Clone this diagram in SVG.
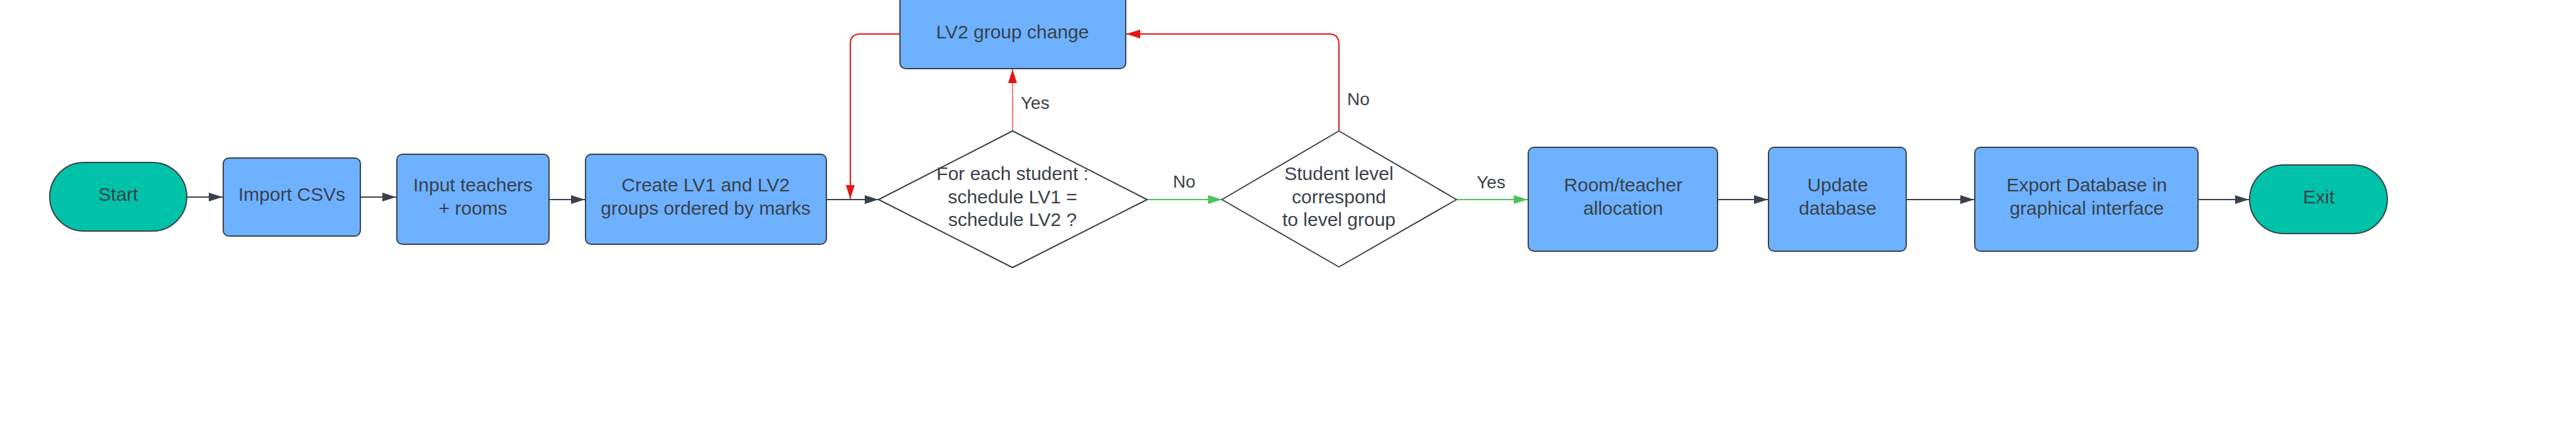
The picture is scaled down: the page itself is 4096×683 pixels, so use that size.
<svg xmlns="http://www.w3.org/2000/svg" width="4096" height="683" viewBox="0 0 4096 683">
<defs>
<style>
.t{font-family:"Liberation Sans",Arial,sans-serif;font-size:30px;fill:#3a414a;text-anchor:middle}
.lbl{font-family:"Liberation Sans",Arial,sans-serif;font-size:28px;fill:#3a414a}
.box{fill:#6db1ff;stroke:#3a414a;stroke-width:2}
.term{fill:#00c2a8;stroke:#3a414a;stroke-width:2}
.dia{fill:#ffffff;stroke:#3a414a;stroke-width:2;stroke-linejoin:round}
.c{fill:none;stroke:#3a414a;stroke-width:2}
.cr{fill:none;stroke:#e81313;stroke-width:2}
.cy{fill:none;stroke:#f07a7a;stroke-width:2}
.cg{fill:none;stroke:#4cc35a;stroke-width:2}
</style>
<marker id="aD" markerUnits="userSpaceOnUse" markerWidth="24" markerHeight="16" viewBox="0 0 24 16" refX="22" refY="8" orient="auto"><path d="M0,1 L22,8 L0,15 Z" fill="#3a414a"/></marker>
<marker id="aR" markerUnits="userSpaceOnUse" markerWidth="24" markerHeight="16" viewBox="0 0 24 16" refX="22" refY="8" orient="auto"><path d="M0,1 L22,8 L0,15 Z" fill="#e81313"/></marker>
<marker id="aG" markerUnits="userSpaceOnUse" markerWidth="24" markerHeight="16" viewBox="0 0 24 16" refX="22" refY="8" orient="auto"><path d="M0,1 L22,8 L0,15 Z" fill="#4cc35a"/></marker>
</defs>
<rect width="4096" height="683" fill="#ffffff"/>
<g id="connectors">
<path class="c" d="M297,313 H354" marker-end="url(#aD)"/>
<path class="c" d="M573,313 H630" marker-end="url(#aD)"/>
<path class="c" d="M873,317 H930" marker-end="url(#aD)"/>
<path class="c" d="M1314,317 H1397" marker-end="url(#aD)"/>
<path class="cg" d="M1824,317 H1943" marker-end="url(#aG)"/>
<path class="cg" d="M2316,317 H2429" marker-end="url(#aG)"/>
<path class="c" d="M2731,317 H2811" marker-end="url(#aD)"/>
<path class="c" d="M3031,317 H3139" marker-end="url(#aD)"/>
<path class="c" d="M3495,317 H3576" marker-end="url(#aD)"/>
<path class="cy" d="M1610,208 V110" marker-end="url(#aR)"/>
<path class="cr" d="M2129,208 V70 Q2129,54 2113,54 H1791" marker-end="url(#aR)"/>
<path class="cr" d="M1431,54 H1368 Q1352,54 1352,70 V316" marker-end="url(#aR)"/>
<text class="lbl" x="1623" y="173">Yes</text>
<text class="lbl" x="2142" y="167">No</text>
<text class="lbl" x="1865" y="298">No</text>
<text class="lbl" x="2348" y="299">Yes</text>
</g>
<g id="start">
<rect class="term" x="79" y="258" width="218" height="109" rx="54.5"/>
<text class="t" x="188" y="319">Start</text>
</g>
<g id="import-csvs">
<rect class="box" x="355" y="251" width="218" height="124" rx="9"/>
<text class="t" x="464" y="319">Import CSVs</text>
</g>
<g id="input-teachers">
<rect class="box" x="631" y="245" width="242" height="143" rx="9"/>
<text class="t" x="752" y="304">Input teachers</text>
<text class="t" x="752" y="341">+ rooms</text>
</g>
<g id="create-groups">
<rect class="box" x="931" y="245" width="383" height="143" rx="9"/>
<text class="t" x="1122" y="304">Create LV1 and LV2</text>
<text class="t" x="1122" y="341">groups ordered by marks</text>
</g>
<g id="decision-schedule">
<path class="dia" d="M1610,208 L1824,317 L1610,425 L1397,317 Z"/>
<text class="t" x="1610" y="286">For each student :</text>
<text class="t" x="1610" y="323">schedule LV1 =</text>
<text class="t" x="1610" y="359">schedule LV2 ?</text>
</g>
<g id="lv2-group-change">
<rect class="box" x="1431" y="-14" width="359" height="123" rx="9"/>
<text class="t" x="1610" y="61">LV2 group change</text>
</g>
<g id="decision-level">
<path class="dia" d="M2129,208 L2316,317 L2129,424 L1943,317 Z"/>
<text class="t" x="2129" y="286">Student level</text>
<text class="t" x="2129" y="323">correspond</text>
<text class="t" x="2129" y="359">to level group</text>
</g>
<g id="room-teacher">
<rect class="box" x="2430" y="234" width="301" height="165" rx="9"/>
<text class="t" x="2581" y="304">Room/teacher</text>
<text class="t" x="2581" y="341">allocation</text>
</g>
<g id="update-database">
<rect class="box" x="2812" y="234" width="219" height="165" rx="9"/>
<text class="t" x="2922" y="304">Update</text>
<text class="t" x="2922" y="341">database</text>
</g>
<g id="export-database">
<rect class="box" x="3140" y="234" width="355" height="165" rx="9"/>
<text class="t" x="3318" y="304">Export Database in</text>
<text class="t" x="3318" y="341">graphical interface</text>
</g>
<g id="exit">
<rect class="term" x="3577" y="262" width="219" height="109" rx="54.5"/>
<text class="t" x="3687" y="323">Exit</text>
</g>
</svg>
